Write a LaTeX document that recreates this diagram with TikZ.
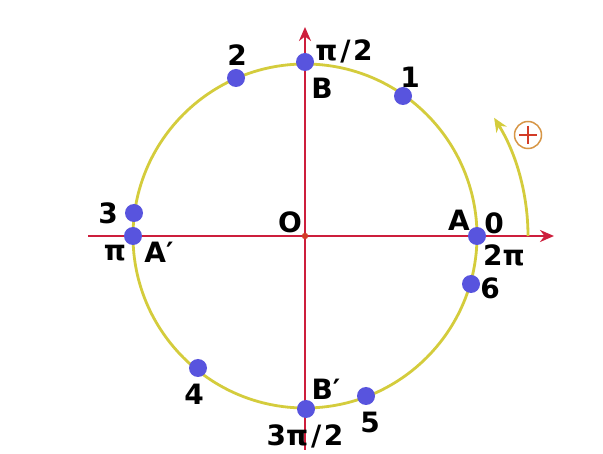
\documentclass[tikz,border=0pt]{standalone}
\usepackage{fontspec}
\setmainfont{DejaVu Sans}
\usetikzlibrary{arrows.meta}
\definecolor{axisred}{RGB}{205,30,60}
\definecolor{circyel}{RGB}{212,204,60}
\definecolor{dotblue}{RGB}{88,84,222}
\definecolor{plusorange}{RGB}{215,150,70}
\definecolor{plusred}{RGB}{210,60,40}
\newcommand{\slsh}{\kern3pt/\kern2.5pt}
\tikzset{
  axis/.style={draw=axisred, line width=2.6pt, -{Stealth[length=14pt,width=12pt]}},
  pt/.style={circle, fill=dotblue, inner sep=0pt, minimum size=18pt},
  lbl/.style={font=\bfseries\fontsize{28}{30}\selectfont, inner sep=0pt, text=black}
}
\begin{document}
\begin{tikzpicture}[x=1pt,y=-1pt]
\useasboundingbox (0,0) rectangle (603,454);
\fill[white] (0,0) rectangle (603,454);
\coordinate (O) at (305,236);
\coordinate (xl) at (88,236);
\coordinate (xr) at (554,236);
\coordinate (yb) at (305,450);
\coordinate (yt) at (305,27);
\draw[circyel, line width=2.8pt] (O) circle[radius=172];
\draw[axis] (xl) -- (xr);
\draw[axis] (yb) -- (yt);
\fill[plusred] (O) circle[radius=3.2];
% orientation arc
\coordinate (arcS) at (528,236);
\draw[circyel, line width=2.8pt, -{Stealth[open, length=14pt, width=12pt]}] (arcS) arc[start angle=0, end angle=-32, radius=223];
\node[circle, draw=plusorange, line width=1.5pt, minimum size=27pt, inner sep=0pt] (plus) at (528,135) {};
\draw[plusred, line width=1.8pt] (plus.center) ++(0,-9) -- ++(0,18);
\draw[plusred, line width=1.8pt] (plus.center) ++(-9,0) -- ++(18,0);
% points
\node[pt] (B) at (305,62) {};
\node[pt] (p1) at (403,96) {};
\node[pt] (p2) at (236,78) {};
\node[pt] (p3) at (134,213) {};
\node[pt] (Ap) at (133,236) {};
\node[pt] (p4) at (198,368) {};
\node[pt] (Bp) at (306,409) {};
\node[pt] (p5) at (366,396) {};
\node[pt] (p6) at (471,284) {};
\node[pt] (A) at (477,236) {};
% labels
\node[lbl] (l2) at (237,55) {2};
\node[lbl] (l1) at (410,77) {1};
\node[lbl] (lpi2) at (344,51) {π\slsh 2};
\node[lbl] (lB) at (322,88) {B};
\node[lbl] (l3) at (108,213) {3};
\node[lbl] (lpi) at (115,253) {π};
\node[lbl] (lAp) at (159,252) {A′};
\node[lbl] (lO) at (290,222) {O};
\node[lbl] (lA) at (459,220) {A};
\node[lbl] (l0) at (494,223) {0};
\node[lbl] (l2pi) at (504,255) {2π};
\node[lbl] (l6) at (490,288) {6};
\node[lbl] (l4) at (194,394) {4};
\node[lbl] (l5) at (370,422) {5};
\node[lbl] (lBp) at (326,389) {B′};
\node[lbl] (l3pi2) at (305,436) {3π\slsh 2};
\end{tikzpicture}
\end{document}
